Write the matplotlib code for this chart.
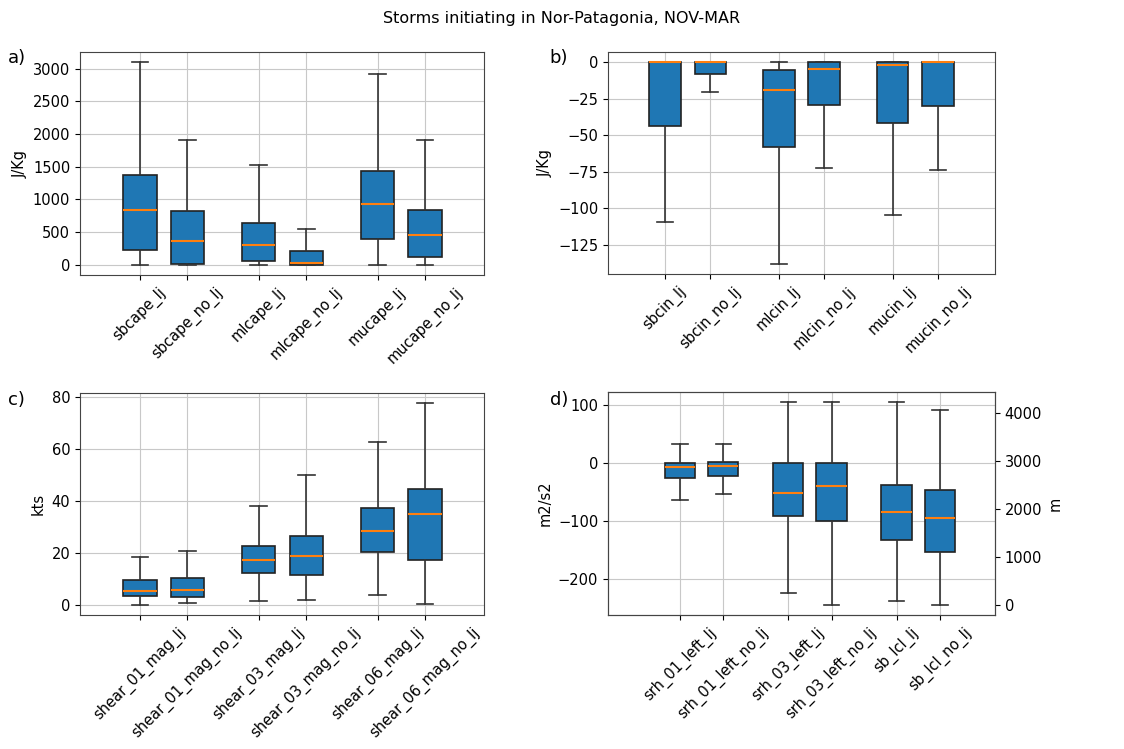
import matplotlib
matplotlib.use("Agg")
import matplotlib.pyplot as plt

# box positions (grouped in pairs)
positions = [1, 2, 3.5, 4.5, 6, 7]

# a) CAPE  (whislo, q1, med, q3, whishi)
cape_labels = ['sbcape_lj', 'sbcape_no_lj', 'mlcape_lj', 'mlcape_no_lj', 'mucape_lj', 'mucape_no_lj']
cape_whislo = [5, 0, 5, 0, 5, 5]
cape_q1 = [228, 10, 61, 5, 401, 117]
cape_med = [843, 371, 310, 30, 934, 452]
cape_q3 = [1376, 822, 645, 218, 1431, 838]
cape_whishi = [3101, 1909, 1528, 553, 2919, 1909]

# b) CIN
cin_labels = ['sbcin_lj', 'sbcin_no_lj', 'mlcin_lj', 'mlcin_no_lj', 'mucin_lj', 'mucin_no_lj']
cin_whislo = [-109.4, -20.4, -137.9, -72.5, -104.2, -73.6]
cin_q1 = [-43.9, -8.4, -58.2, -29.2, -41.4, -30.3]
cin_med = [0, 0, -18.8, -5.0, -1.8, 0]
cin_q3 = [0, 0, -5.2, 0, 0, 0]
cin_whishi = [0, 0, 0, 0, 0, 0]

# c) shear
shear_labels = ['shear_01_mag_lj', 'shear_01_mag_no_lj', 'shear_03_mag_lj',
                'shear_03_mag_no_lj', 'shear_06_mag_lj', 'shear_06_mag_no_lj']
shear_whislo = [0.1, 0.8, 1.7, 1.8, 3.8, 0.4]
shear_q1 = [3.6, 3.1, 12.4, 11.5, 20.4, 17.3]
shear_med = [5.6, 5.7, 17.3, 18.9, 28.5, 35.2]
shear_q3 = [9.7, 10.3, 22.8, 26.8, 37.6, 44.6]
shear_whishi = [18.5, 20.9, 38.2, 50.1, 62.7, 77.8]

# d) SRH (left axis) and LCL (right axis)
srh_labels = ['srh_01_left_lj', 'srh_01_left_no_lj', 'srh_03_left_lj', 'srh_03_left_no_lj']
srh_whislo = [-63.1, -52.2, -223.2, -243.8]
srh_q1 = [-25.2, -21.2, -91.2, -99.3]
srh_med = [-6.3, -4.0, -50.5, -39.6]
srh_q3 = [0, 1.7, 0, 0]
srh_whishi = [32.7, 32.7, 105.6, 105.6]

lcl_labels = ['sb_lcl_lj', 'sb_lcl_no_lj']
lcl_whislo = [76, 0]
lcl_q1 = [1361, 1111]
lcl_med = [1938, 1813]
lcl_q3 = [2500, 2389]
lcl_whishi = [4222, 4049]


def make_stats(labels, whislo, q1, med, q3, whishi):
    stats = []
    for i in range(len(labels)):
        stats.append({'label': labels[i], 'whislo': whislo[i], 'q1': q1[i], 'med': med[i],
                      'q3': q3[i], 'whishi': whishi[i], 'fliers': []})
    return stats


def draw(ax, stats, pos):
    ax.bxp(stats, positions=pos, widths=0.7, patch_artist=True, showfliers=False,
           boxprops=dict(facecolor='#1f77b4', edgecolor='#222222', linewidth=1.2),
           whiskerprops=dict(color='#333333', linewidth=1.2),
           capprops=dict(color='#333333', linewidth=1.2),
           medianprops=dict(color='#ff7f0e', linewidth=1.5, zorder=4))


plt.rcParams['font.size'] = 10.5
fig = plt.figure(figsize=(11.24, 7.49), dpi=100)
W, H = 1124.0, 749.0


def axes_px(x0, x1, y0, y1):
    return fig.add_axes([x0 / W, 1 - y1 / H, (x1 - x0) / W, (y1 - y0) / H])


ax_a = axes_px(80, 484, 52, 275)
ax_b = axes_px(608, 995, 52, 274)
ax_c = axes_px(80, 484, 393, 615)
ax_d = axes_px(608, 995, 392, 615)

draw(ax_a, make_stats(cape_labels, cape_whislo, cape_q1, cape_med, cape_q3, cape_whishi), positions)
ax_a.set_ylabel('J/Kg')
ax_a.set_xlim(-0.26, 8.24)

draw(ax_b, make_stats(cin_labels, cin_whislo, cin_q1, cin_med, cin_q3, cin_whishi), positions)
ax_b.set_ylabel('J/Kg')
ax_b.set_xlim(-0.25, 8.25)

draw(ax_c, make_stats(shear_labels, shear_whislo, shear_q1, shear_med, shear_q3, shear_whishi), positions)
ax_c.set_ylabel('kts')
ax_c.set_xlim(-0.26, 8.24)

draw(ax_d, make_stats(srh_labels, srh_whislo, srh_q1, srh_med, srh_q3, srh_whishi), positions[:4])
ax_d.set_ylabel('m2/s2')
ax_d2 = ax_d.twinx()
draw(ax_d2, make_stats(lcl_labels, lcl_whislo, lcl_q1, lcl_med, lcl_q3, lcl_whishi), positions[4:])
ax_d2.set_ylabel('m')
ax_d.set_xlim(-0.66, 8.27)
ax_d.set_xticks(positions)
ax_d.set_xticklabels(srh_labels + lcl_labels)

for ax in [ax_a, ax_b, ax_c, ax_d]:
    ax.grid(True, color='#c8c8c8')
    ax.set_axisbelow(True)
    plt.setp(ax.get_xticklabels(), rotation=45, ha='center')
    for s in ax.spines.values():
        s.set_color('#444444')
for s in ax_d2.spines.values():
    s.set_color('#444444')

fig.text(0.007, 1 - 58 / H, 'a)', fontsize=13, va='center')
fig.text(0.489, 1 - 58 / H, 'b)', fontsize=13, va='center')
fig.text(0.007, 1 - 400 / H, 'c)', fontsize=13, va='center')
fig.text(0.489, 1 - 400 / H, 'd)', fontsize=13, va='center')

fig.suptitle('Storms initiating in Nor-Patagonia, NOV-MAR', x=0.5, y=1 - 18 / H, va='center', fontsize=11.5)

fig.savefig('out.png', dpi=100)
